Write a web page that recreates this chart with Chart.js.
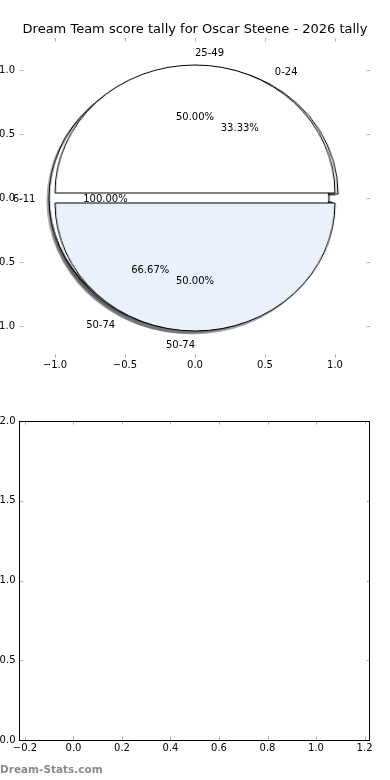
<!DOCTYPE html>
<html>
<head>
<meta charset="utf-8">
<script src="https://cdn.jsdelivr.net/npm/chart.js@4.4.0/dist/chart.umd.min.js"></script>
<style>
  html, body { margin: 0; padding: 0; background: #fff; }
  body { width: 390px; height: 780px; position: relative; overflow: hidden; }
  .box { position: absolute; }
</style>
</head>
<body>
<div class="box" style="left:0;top:0;width:390px;height:390px;z-index:10"><canvas id="topAxes"></canvas></div>
<div class="box" style="left:0;top:390px;width:390px;height:390px;z-index:10"><canvas id="bottomAxes"></canvas></div>
<script>
// Pie data (drawn bottom to top)
const pieLabelsA = ['0-24', '50-74'];
const pieValuesA = [1, 2];
const pieLabelsB = ['6-11'];
const pieValuesB = [1];
const pieLabelsC = ['25-49', '50-74'];
const pieValuesC = [1, 1];

// Tick labels
const pieTicks = [-1.0, -0.5, 0.0, 0.5, 1.0];
const bottomXTicks = [-0.2, 0.0, 0.2, 0.4, 0.6, 0.8, 1.0, 1.2];
const bottomYTicks = [0.0, 0.5, 1.0, 1.5, 2.0];

const titleText = 'Dream Team score tally for Oscar Steene - 2026 tally';
const explode = 0.04;
const shadowShift = -0.02;
const white = '#ffffff';
const blue = '#eaf0fc';

const pies = [
  { labels: pieLabelsA, values: pieValuesA, colors: [white, blue] },
  { labels: pieLabelsB, values: pieValuesB, colors: [white] },
  { labels: pieLabelsC, values: pieValuesC, colors: [white, blue] }
];

const tickFont = { family: 'DejaVu Sans', size: 10 };

function fmt(v) {
  return (v < 0 ? '\u2212' : '') + Math.abs(v).toFixed(1);
}

// Slice angles, counterclockwise from 3 o'clock like matplotlib
function sliceAngles(values) {
  const total = values.reduce((a, b) => a + b, 0);
  let acc = 0;
  return values.map(v => {
    const t1 = 360 * acc / total;
    acc += v;
    const t2 = 360 * acc / total;
    return { t1, t2, mid: (t1 + t2) / 2 * Math.PI / 180, frac: v / total, value: v, total };
  });
}

function shade(hex, a) {
  const n = parseInt(hex.slice(1), 16);
  const r = Math.round(((n >> 16) & 255) * 0.3);
  const g = Math.round(((n >> 8) & 255) * 0.3);
  const b = Math.round((n & 255) * 0.3);
  return `rgba(${r},${g},${b},${a})`;
}

// Small grey tick marks pointing into the plot, on all four sides
const innerTicks = {
  id: 'innerTicks',
  afterDraw(chart) {
    const { ctx, chartArea: a, scales } = chart;
    ctx.save();
    ctx.strokeStyle = '#b0b0b0';
    ctx.lineWidth = 1;
    ctx.beginPath();
    scales.x.ticks.forEach(t => {
      const px = Math.round(scales.x.getPixelForValue(t.value)) + 0.5;
      ctx.moveTo(px, a.bottom); ctx.lineTo(px, a.bottom - 3.5);
      ctx.moveTo(px, a.top); ctx.lineTo(px, a.top + 3.5);
    });
    scales.y.ticks.forEach(t => {
      const py = Math.round(scales.y.getPixelForValue(t.value)) + 0.5;
      ctx.moveTo(a.left, py); ctx.lineTo(a.left + 3.5, py);
      ctx.moveTo(a.right, py); ctx.lineTo(a.right - 3.5, py);
    });
    ctx.stroke();
    ctx.restore();
  }
};

// Title and the pie labels / percentages
const pieText = {
  id: 'pieText',
  afterDraw(chart) {
    const { ctx, chartArea: a, scales: { x, y } } = chart;
    ctx.save();
    ctx.fillStyle = '#000';
    ctx.textBaseline = 'middle';
    ctx.font = '13px "DejaVu Sans"';
    ctx.textAlign = 'center';
    ctx.fillText(titleText, (a.left + a.right) / 2, 30);

    ctx.font = '10px "DejaVu Sans"';
    pies.forEach(p => {
      sliceAngles(p.values).forEach((s, i) => {
        const c = Math.cos(s.mid), sn = Math.sin(s.mid);
        const lx = (1.1 + explode) * c, ly = (1.1 + explode) * sn;
        ctx.textAlign = lx > 0 ? 'left' : 'right';
        ctx.fillText(p.labels[i], x.getPixelForValue(lx), y.getPixelForValue(ly) + 1);
        ctx.textAlign = 'center';
        ctx.fillText((s.frac * 100).toFixed(2) + '%',
          x.getPixelForValue((0.6 + explode) * c), y.getPixelForValue((0.6 + explode) * sn) + 1);
      });
    });
    ctx.restore();
  }
};

const topChart = new Chart(document.getElementById('topAxes'), {
  type: 'scatter',
  data: { datasets: [] },
  options: {
    responsive: true,
    maintainAspectRatio: false,
    animation: false,
    events: [],
    layout: { padding: { top: 38, right: 20, left: 0, bottom: 0 } },
    plugins: { legend: { display: false }, tooltip: { enabled: false } },
    scales: {
      x: {
        type: 'linear', min: -1.25, max: 1.25,
        afterBuildTicks: s => { s.ticks = pieTicks.map(v => ({ value: v })); },
        afterFit: s => { s.height = 32; },
        grid: { display: false, drawTicks: false },
        border: { display: false },
        ticks: { padding: 1, color: '#000', font: tickFont, maxRotation: 0, autoSkip: false, callback: v => fmt(v) }
      },
      y: {
        type: 'linear', min: -1.25, max: 1.25,
        afterBuildTicks: s => { s.ticks = pieTicks.map(v => ({ value: v })); },
        afterFit: s => { s.width = 20; },
        grid: { display: false, drawTicks: false },
        border: { display: false },
        ticks: { padding: 5, color: '#000', font: tickFont, autoSkip: false, callback: v => fmt(v) }
      }
    }
  },
  plugins: [innerTicks, pieText]
});

// Pie geometry taken from the axes of the top chart
const xs = topChart.scales.x, ys = topChart.scales.y;
const cx = xs.getPixelForValue(0), cy = ys.getPixelForValue(0);
const rx = xs.getPixelForValue(1) - cx;
const ry = cy - ys.getPixelForValue(1);

function addSliceChart(pie, i, s, isShadow) {
  const ox = explode * Math.cos(s.mid) + (isShadow ? shadowShift : 0);
  const oy = explode * Math.sin(s.mid) + (isShadow ? shadowShift : 0);
  const px = xs.getPixelForValue(ox), py = ys.getPixelForValue(oy);
  const size = Math.ceil(2 * ry) + 10;
  const box = document.createElement('div');
  box.className = 'box';
  Object.assign(box.style, {
    left: (px - size / 2) + 'px', top: (py - size / 2) + 'px',
    width: size + 'px', height: size + 'px',
    transform: `scaleX(${rx / ry})`, zIndex: isShadow ? 1 : 2
  });
  const cv = document.createElement('canvas');
  box.appendChild(cv);
  document.body.appendChild(box);

  let datasets, radius;
  if (isShadow) {
    const col = shade(pie.colors[i], 0.5);
    datasets = [{
      data: [s.value, s.total - s.value],
      backgroundColor: [col, 'rgba(0,0,0,0)'],
      borderWidth: 0,
      rotation: 90 - s.t2
    }];
    radius = ry + 0.5;
  } else if (s.frac >= 1) {
    // full circle: thin black ring as outline, white fill inside
    datasets = [
      { data: [s.value], backgroundColor: ['#000'], borderWidth: 0, weight: 1 },
      { data: [s.value], backgroundColor: [pie.colors[i]], borderWidth: 0, weight: ry - 0.5 }
    ];
    radius = ry + 0.5;
  } else {
    datasets = [{
      data: [s.value, s.total - s.value],
      backgroundColor: [pie.colors[i], 'rgba(0,0,0,0)'],
      borderColor: ['#000', 'rgba(0,0,0,0)'],
      borderWidth: [1, 0],
      rotation: 90 - s.t2
    }];
    radius = ry;
  }

  new Chart(cv, {
    type: 'pie',
    data: { labels: [pie.labels[i], ''], datasets },
    options: {
      responsive: true,
      maintainAspectRatio: false,
      animation: false,
      events: [],
      radius: radius,
      layout: { padding: 0 },
      plugins: { legend: { display: false }, tooltip: { enabled: false } }
    }
  });
}

// shadows first (they sit under every wedge), then wedges
pies.forEach(p => sliceAngles(p.values).forEach((s, i) => addSliceChart(p, i, s, true)));
pies.forEach(p => sliceAngles(p.values).forEach((s, i) => addSliceChart(p, i, s, false)));

// Frame and watermark for the empty lower axes
const frame = {
  id: 'frame',
  afterDraw(chart) {
    const { ctx, chartArea: a } = chart;
    ctx.save();
    ctx.strokeStyle = '#000';
    ctx.lineWidth = 1;
    const l = Math.floor(a.left) + 0.5, t = Math.floor(a.top) + 0.5;
    const r = Math.floor(a.right) - 0.5, b = Math.floor(a.bottom) + 0.5;
    ctx.strokeRect(l, t, r - l, b - t);
    ctx.fillStyle = '#8a8a8a';
    ctx.font = 'bold 10.5px "DejaVu Sans"';
    ctx.textAlign = 'left';
    ctx.textBaseline = 'middle';
    ctx.fillText('Dream-Stats.com', 0, 380);
    ctx.restore();
  }
};

new Chart(document.getElementById('bottomAxes'), {
  type: 'scatter',
  data: { datasets: [] },
  options: {
    responsive: true,
    maintainAspectRatio: false,
    animation: false,
    events: [],
    layout: { padding: { top: 31, right: 20, left: 0, bottom: 0 } },
    plugins: { legend: { display: false }, tooltip: { enabled: false } },
    scales: {
      x: {
        type: 'linear', min: -0.2225, max: 1.2225,
        afterBuildTicks: s => { s.ticks = bottomXTicks.map(v => ({ value: v })); },
        afterFit: s => { s.height = 40; },
        grid: { display: false, drawTicks: false },
        border: { display: false },
        ticks: { padding: 2, color: '#000', font: tickFont, maxRotation: 0, autoSkip: false, callback: v => fmt(v) }
      },
      y: {
        type: 'linear', min: 0, max: 2,
        afterBuildTicks: s => { s.ticks = bottomYTicks.map(v => ({ value: v })); },
        afterFit: s => { s.width = 19.5; },
        grid: { display: false, drawTicks: false },
        border: { display: false },
        ticks: { padding: 4, color: '#000', font: tickFont, autoSkip: false, callback: v => fmt(v) }
      }
    }
  },
  plugins: [innerTicks, frame]
});
</script>
</body>
</html>
